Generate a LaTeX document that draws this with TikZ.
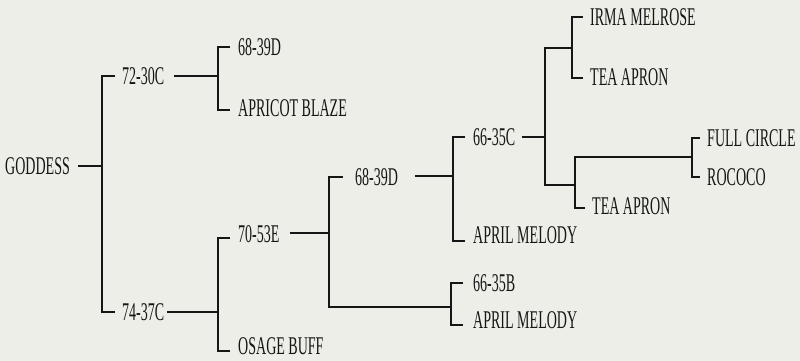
\documentclass[tikz,border=0pt]{standalone}
\usepackage{fontspec}
\setmainfont[FakeStretch=0.55]{Liberation Serif}
\definecolor{bg}{RGB}{238,238,232}
\definecolor{ink}{RGB}{22,22,22}
\begin{document}
\begin{tikzpicture}[x=1pt,y=-1pt,
  lbl/.style={anchor=west,inner sep=0pt,text=ink,font=\fontsize{25.5}{26}\selectfont},
  link/.style={draw=ink,line width=1.7pt,line join=miter}]
\fill[bg] (0,0) rectangle (800,361);
\useasboundingbox (0,0) rectangle (800,361);
% labels
\node[lbl] (goddess) at (5,166) {GODDESS};
\node[lbl] (c7230) at (122,76) {72-30C};
\node[lbl] (d6839a) at (238,47) {68-39D};
\node[lbl] (apricot) at (238,108) {APRICOT BLAZE};
\node[lbl] (c7437) at (122,312) {74-37C};
\node[lbl] (e7053) at (238,234) {70-53E};
\node[lbl] (osage) at (238,346) {OSAGE BUFF};
\node[lbl] (d6839b) at (355,177) {68-39D};
\node[lbl] (c6635) at (473,137) {66-35C};
\node[lbl] (aprila) at (473,235) {APRIL MELODY};
\node[lbl] (b6635) at (473,283) {66-35B};
\node[lbl] (aprilb) at (473,320) {APRIL MELODY};
\node[lbl] (irma) at (590,17) {IRMA MELROSE};
\node[lbl] (teaa) at (590,77) {TEA APRON};
\node[lbl] (teab) at (592,206) {TEA APRON};
\node[lbl] (full) at (707,138) {FULL CIRCLE};
\node[lbl] (rococo) at (707,177) {ROCOCO};
% bracket positions and unnamed junctions
\coordinate (bg1) at (102,166);
\coordinate (bg2) at (218,76);
\coordinate (bg3) at (218,312);
\coordinate (bg4) at (329,233);
\coordinate (bg6) at (453,176);
\coordinate (bg7) at (545,137);
\coordinate (j1) at (572,48);
\coordinate (j2) at (575,185);
\coordinate (j3) at (692,157);
\coordinate (j4) at (451,307);
% GODDESS
\draw[link] ([xshift=8pt]goddess.east) -- (goddess.east -| bg1);
\draw[link] ([xshift=-7pt]c7230.west) -| (bg1) |- ([xshift=-7pt]c7437.west);
% 72-30C
\draw[link] ([xshift=10pt]c7230.east) -- (c7230.east -| bg2);
\draw[link] ([xshift=-8pt]d6839a.west) -| (bg2) |- ([xshift=-8pt,yshift=-2pt]apricot.west);
% 74-37C
\draw[link] ([xshift=3pt]c7437.east) -- (c7437.east -| bg3);
\draw[link] ([xshift=-8pt,yshift=-4pt]e7053.west) -| (bg3) |- ([xshift=-8pt,yshift=-5pt]osage.west);
% 70-53E
\draw[link] ([xshift=10pt,yshift=1pt]e7053.east) -- ([yshift=1pt]e7053.east -| bg4);
\draw[link] ([xshift=-12pt]d6839b.west) -| (bg4) |- (j4);
% 66-35B x APRIL MELODY
\draw[link] ([xshift=-10pt]b6635.west) -| (j4) |- ([xshift=-10pt,yshift=-5pt]aprilb.west);
% 68-39D
\draw[link] ([xshift=17pt,yshift=1pt]d6839b.east) -- ([yshift=1pt]d6839b.east -| bg6);
\draw[link] ([xshift=-8pt]c6635.west) -| (bg6) |- ([xshift=-8pt,yshift=-6pt]aprila.west);
% 66-35C
\draw[link] ([xshift=7pt]c6635.east) -- (bg7);
\draw[link] (j1) -| (bg7) |- (j2);
% IRMA MELROSE x TEA APRON
\draw[link] ([xshift=-7pt]irma.west) -| (j1) |- ([xshift=-7pt,yshift=-1pt]teaa.west);
% seedling x TEA APRON
\draw[link] (j3) -| (j2) |- ([xshift=-7pt,yshift=-2pt]teab.west);
% FULL CIRCLE x ROCOCO
\draw[link] ([xshift=-7pt]full.west) -| (j3) |- ([xshift=-7pt]rococo.west);
\end{tikzpicture}
\end{document}
